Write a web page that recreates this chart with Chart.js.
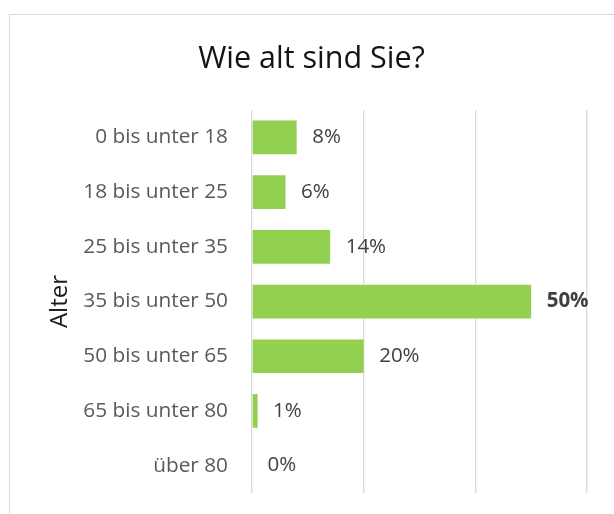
<!DOCTYPE html>
<html>
<head>
<meta charset="utf-8">
<script src="https://cdn.jsdelivr.net/npm/chart.js@4"></script>
<style>
  html, body { margin: 0; padding: 0; background: #fff; overflow: hidden; }
  #wrap { position: relative; width: 614px; height: 514px; }
  #rahmen { position: absolute; left: 9px; top: 14px; width: 700px; height: 600px;
            border: 1.5px solid #d9d9d9; pointer-events: none; }
  canvas { position: absolute; left: 0; top: 0; }
</style>
</head>
<body>
<div id="wrap">
  <canvas id="chartAlter" width="614" height="514"></canvas>
  <div id="rahmen"></div>
</div>
<script>
const kategorien = ['0 bis unter 18', '18 bis unter 25', '25 bis unter 35', '35 bis unter 50',
                    '50 bis unter 65', '65 bis unter 80', 'über 80'];
const anteile = [8, 6, 14, 50, 20, 1, 0];
const achseMax = 60;
const achseSchritt = 20;

const schrift = '"Open Sans", "Noto Sans", sans-serif';
const gruen = '#92D050';

// Datenbeschriftungen rechts neben den Balken
const wertLabels = {
    id: 'wertLabels',
    afterDatasetsDraw(chart) {
        const ctx = chart.ctx;
        const meta = chart.getDatasetMeta(0);
        const maxWert = Math.max(...anteile);
        ctx.save();
        ctx.textAlign = 'left';
        ctx.textBaseline = 'middle';
        meta.data.forEach((bar, i) => {
            const wert = anteile[i];
            ctx.font = (wert === maxWert ? 'bold ' : '') + '20.5px ' + schrift;
            ctx.fillStyle = '#404040';
            ctx.fillText(wert + '%', bar.x + 15.5, bar.y);
        });
        ctx.restore();
    }
};

new Chart(document.getElementById('chartAlter'), {
    type: 'bar',
    data: {
        labels: kategorien,
        datasets: [{
            data: anteile,
            backgroundColor: gruen,
            borderWidth: 0,
            barPercentage: 1,
            categoryPercentage: 0.616
        }]
    },
    options: {
        indexAxis: 'y',
        responsive: false,
        animation: false,
        layout: { padding: { left: 36, right: 27, top: 0, bottom: 21 } },
        plugins: {
            legend: { display: false },
            tooltip: { enabled: false },
            title: {
                display: true,
                text: 'Wie alt sind Sie?',
                color: '#141414',
                font: { family: schrift, size: 30.5, weight: 'normal' },
                padding: { top: 41, bottom: 32.5 }
            }
        },
        scales: {
            x: {
                min: 0,
                max: achseMax,
                ticks: { display: false, stepSize: achseSchritt },
                grid: { color: '#d9d9d9', lineWidth: 1.3, drawTicks: false },
                border: { display: false }
            },
            y: {
                // Abstand über tickLength statt ticks.padding, damit oben/unten kein Rand entsteht
                grid: { display: false, drawTicks: true, tickLength: 24 },
                border: { display: false },
                ticks: {
                    color: '#595959',
                    padding: 0,
                    font: { family: schrift, size: 20.8 }
                },
                title: {
                    display: true,
                    text: 'Alter',
                    color: '#1a1a1a',
                    font: { family: schrift, size: 24, weight: 'normal' },
                    padding: { top: 10, bottom: 0 }
                },
                afterFit(scale) { scale.width = 216; }
            }
        }
    },
    plugins: [wertLabels]
});
</script>
</body>
</html>
